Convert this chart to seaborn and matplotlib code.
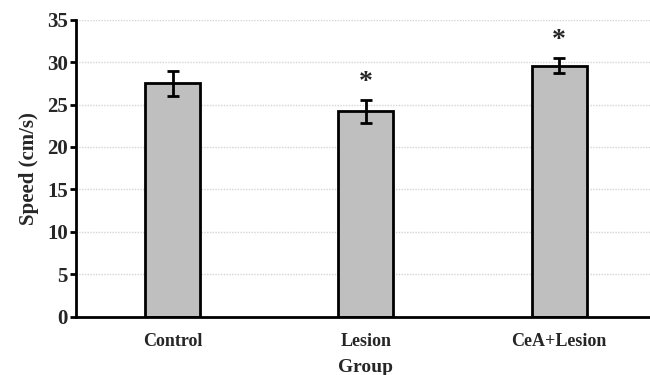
import matplotlib
matplotlib.use("Agg")
import matplotlib.pyplot as plt
import seaborn as sns
import pandas as pd

groups = ["Control", "Lesion", "CeA+Lesion"]
speed = [27.5, 24.2, 29.6]
sem = [1.45, 1.4, 0.9]
star_y = [None, 27.6, 32.6]

sns.set_theme(style="white")
plt.rcParams['font.family'] = ['Liberation Serif', 'DejaVu Serif']

df = pd.DataFrame({"Group": groups, "Speed": speed})

fig = plt.figure(figsize=(6.5, 3.75), dpi=100)
ax = fig.add_axes([0.117, 0.156, 0.892, 0.791])

for y in range(5, 40, 5):
    ax.axhline(y, color="#d4d4d4", linestyle=(0, (1, 1)), linewidth=1.0, zorder=0)

sns.barplot(data=df, x="Group", y="Speed", color="#bfbfbf", edgecolor="black",
            linewidth=2, width=0.285, saturation=1, errorbar=None, ax=ax, zorder=2)
ax.errorbar(range(len(groups)), speed, yerr=sem, fmt="none", ecolor="black",
            elinewidth=2, capsize=4, capthick=2, zorder=3)

for i, sy in enumerate(star_y):
    if sy is not None:
        ax.text(i, sy, "*", ha="center", va="center", fontsize=20, fontweight="bold")

ax.set_xlim(-0.5, 2.5)
ax.set_ylim(0, 35)
ax.set_yticks(range(0, 40, 5))
ax.tick_params(axis="y", direction="out", length=4, width=2, color="black",
               labelsize=15, pad=2, left=True)
ax.tick_params(axis="x", length=0, labelsize=13, pad=12)
for lab in ax.get_xticklabels() + ax.get_yticklabels():
    lab.set_fontweight("bold")

for s in ["top", "right"]:
    ax.spines[s].set_visible(False)
for s in ["left", "bottom"]:
    ax.spines[s].set_color("black")
    ax.spines[s].set_linewidth(2)

ax.set_xlabel("Group", fontsize=14, fontweight="bold", labelpad=6)
ax.set_ylabel("Speed (cm/s)", fontsize=15, fontweight="bold", labelpad=6)

fig.savefig("out.png", dpi=100)
